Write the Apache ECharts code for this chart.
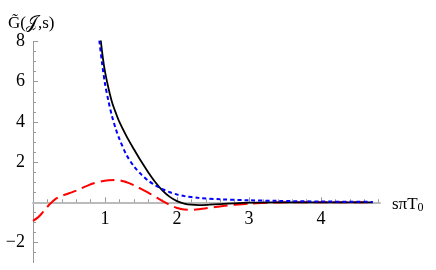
<!DOCTYPE html>
<html>
<head>
<meta charset="utf-8">
<script src="https://cdn.jsdelivr.net/npm/echarts@6/dist/echarts.min.js"></script>
<style>html,body{margin:0;padding:0;background:#fff}#c{width:436px;height:270px}</style>
</head>
<body>
<div id="c"></div>
<script>
const xTickLabels = [1, 2, 3, 4];
const yTickLabels = [-2, 2, 4, 6, 8];

const blackX = [0.93, 0.97, 1.0, 1.05, 1.1, 1.15, 1.2, 1.3, 1.4, 1.5, 1.6, 1.7, 1.8, 1.9, 2.0, 2.1, 2.2, 2.3, 2.45, 2.6, 2.8, 3.0, 3.3, 3.6, 4.0, 4.4, 4.72];
const blackY = [8.4, 7.2, 6.5, 5.65, 4.95, 4.45, 4.0, 3.28, 2.65, 2.05, 1.5, 1.0, 0.58, 0.27, 0.06, -0.06, -0.12, -0.14, -0.12, -0.09, -0.05, -0.02, 0.0, 0.0, 0.0, 0.0, 0.0];

const blueX = [0.91, 0.96, 1.0, 1.05, 1.1, 1.15, 1.2, 1.3, 1.4, 1.5, 1.6, 1.7, 1.8, 1.9, 2.0, 2.1, 2.3, 2.6, 3.0, 3.4, 4.0, 4.72];
const blueY = [8.4, 6.9, 5.9, 5.0, 4.25, 3.65, 3.15, 2.35, 1.8, 1.4, 1.08, 0.84, 0.65, 0.5, 0.39, 0.31, 0.22, 0.15, 0.1, 0.07, 0.04, 0.02];

const redX = [0, 0.07, 0.14, 0.2, 0.26, 0.32, 0.4, 0.5, 0.6, 0.75, 0.9, 1.05, 1.15, 1.3, 1.4, 1.5, 1.6, 1.7, 1.8, 1.9, 2.0, 2.1, 2.2, 2.35, 2.5, 2.7, 2.9, 3.1, 3.4, 3.8, 4.2, 4.72];
const redY = [-0.92, -0.75, -0.48, -0.22, 0.0, 0.18, 0.32, 0.45, 0.58, 0.82, 1.0, 1.1, 1.11, 1.0, 0.85, 0.67, 0.48, 0.27, 0.06, -0.13, -0.28, -0.36, -0.37, -0.32, -0.25, -0.16, -0.1, -0.05, -0.01, 0.0, 0.0, 0.0];

const zip = (xs, ys) => xs.map((x, i) => [x, ys[i]]);

const xMinor = [];
for (let i = 1; i <= 24; i++) { const v = +(i * 0.2).toFixed(1); if (!xTickLabels.includes(v)) xMinor.push(v); }
const yMinor = [];
for (let i = -5; i <= 16; i++) { const v = i * 0.5; if (!yTickLabels.includes(v) && v !== 0) yMinor.push(v); }

const W = 436, H = 270, TOP = 41.5, BOTTOM = 7.4;
const yMin = -3, yMax = 8;
const gridH = H - TOP - BOTTOM;
const zeroOffset = -gridH * (0 - yMin) / (yMax - yMin);

const font = 'Liberation Serif';
const chart = echarts.init(document.getElementById('c'));
chart.setOption({
  animation: false,
  grid: { left: 33, right: 56, top: TOP, bottom: BOTTOM, containLabel: false, outerBoundsMode: 'none' },
  title: {
    text: 'G̃(𝒥,s)', left: 3, top: 10,
    textStyle: { fontFamily: font, fontSize: 17, fontWeight: 'normal', color: '#000' }
  },
  xAxis: [{
    type: 'value', min: 0, max: 4.82, position: 'bottom', offset: zeroOffset,
    axisLine: { onZero: false, lineStyle: { color: '#bbbbbb', width: 2 } },
    axisTick: { show: true, inside: true, length: 5, customValues: xTickLabels, lineStyle: { color: '#999', width: 1 } },
    axisLabel: { customValues: xTickLabels, margin: 8, fontFamily: font, fontSize: 18, color: '#000', hideOverlap: false },
    splitLine: { show: false },
    name: '{a|sπT}{b|0}', nameLocation: 'end', nameGap: 12,
    nameTextStyle: {
      fontFamily: font, color: '#000', align: 'left', verticalAlign: 'middle', padding: [4, 0, 0, 0],
      rich: { a: { fontFamily: font, fontSize: 17, color: '#000' }, b: { fontFamily: font, fontSize: 12, color: '#000', padding: [8, 0, 0, 0] } }
    }
  }, {
    type: 'value', min: 0, max: 4.82, position: 'bottom', offset: zeroOffset,
    axisLine: { show: false, onZero: false },
    axisTick: { show: true, inside: true, length: 3, customValues: xMinor, lineStyle: { color: '#999', width: 1 } },
    axisLabel: { show: false },
    splitLine: { show: false }
  }],
  yAxis: [{
    type: 'value', min: yMin, max: yMax, position: 'left',
    axisLine: { show: true, onZero: false, lineStyle: { color: '#999999', width: 1 } },
    axisTick: { show: true, inside: true, length: 5, customValues: yTickLabels, lineStyle: { color: '#999', width: 1 } },
    axisLabel: { customValues: yTickLabels, margin: 8, fontFamily: font, fontSize: 18, color: '#000',
      formatter: v => (v < 0 ? '\u2212' + Math.abs(v) : '' + v) },
    splitLine: { show: false }
  }, {
    type: 'value', min: yMin, max: yMax, position: 'left', offset: 0,
    axisLine: { show: false, onZero: false },
    axisTick: { show: true, inside: true, length: 3, customValues: yMinor, lineStyle: { color: '#999', width: 1 } },
    axisLabel: { show: false },
    splitLine: { show: false }
  }],
  series: [{
    type: 'line', xAxisIndex: 0, yAxisIndex: 0, data: zip(redX, redY), smooth: 0.4, showSymbol: false, clip: true,
    lineStyle: { color: '#ff0000', width: 2, type: [14, 6] }, z: 3
  }, {
    type: 'line', xAxisIndex: 0, yAxisIndex: 0, data: zip(blackX, blackY), smooth: 0.3, showSymbol: false, clip: true,
    lineStyle: { color: '#000000', width: 1.8 }, z: 4
  }, {
    type: 'line', xAxisIndex: 0, yAxisIndex: 0, data: zip(blueX, blueY), smooth: 0.3, showSymbol: false, clip: true,
    lineStyle: { color: '#0000ff', width: 2, type: [4, 3] }, z: 5
  }]
});
</script>
</body>
</html>
